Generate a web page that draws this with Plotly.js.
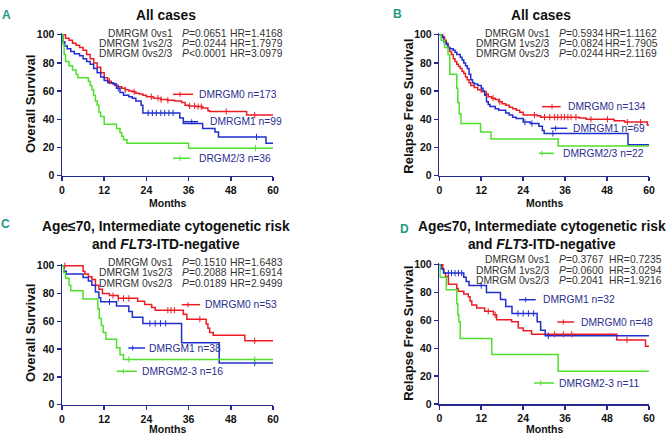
<!DOCTYPE html>
<html><head><meta charset="utf-8">
<script src="https://cdn.plot.ly/plotly-3.0.1.min.js"></script>
<style>html,body{margin:0;padding:0;background:#fff}</style>
</head><body><div id="chart" style="width:668px;height:438px"></div>
<script>
// ---------------- DATA ----------------
const monthTicks = [0, 12, 24, 36, 48, 60];
const survTicks = [0, 20, 40, 60, 80, 100];

// Panel A: Overall survival, all cases
const osAll_DMRGM0_t = [0,1,2,3,4,5,6,7,8,9,10,11,12,13,14,15,16,17,18,19,20,21,22,23,24,26,28,30,32,34,35,36,38,40,41.5,42,52.5,60];
const osAll_DMRGM0_s = [100,97.5,96,94,92.5,91,89,86,83,80,77,73,69.5,67,65.5,64,63,62,61,60,59.5,58.5,58,57,56,55,54,53.5,53,52,50,49.5,49,48,46,45.5,43,43];
const osAll_DMRGM0_cens = [13.5,18,20.5,25.4,27.3,28.2,30.1,36.3,37.7,38.7,39.6,46.7,54.8];
const osAll_DMRGM1_t = [0,0.3,0.8,1.5,2.5,3.5,5,6,7,8,9,10,11,12,13,14.5,15.5,16.5,17.5,19,20,21,22.5,23,33.5,34.5,40,43.5,44.5,58,60];
const osAll_DMRGM1_s = [100,95,92,90,88,86.5,85,83,81,79,76,73,70,67.5,66,65,62,59,57,56,55,53,50,44.5,41,37,33.5,31,27.5,23,23];
const osAll_DMRGM1_cens = [16,24.5,25.7,26.8,28.1,29.2,30.4,31.6,55.3];
const osAll_DMRGM23_t = [0,0.3,0.6,1,2,3,4,4.5,7.5,8,8.5,9,9.5,10,10.5,11,12,15.5,16.5,17,17.5,18.5,36,60];
const osAll_DMRGM23_s = [100,93,86,81,78,75,72,69.5,67,64,61,57,53,50,45,42,36.5,33.5,30.5,28,25.5,23,19.5,19.5];
const osAll_DMRGM23_cens = [55];

// Panel B: Relapse free survival, all cases
const rfsAll_DMRGM0_t = [0,1,1.5,2,2.5,3,3.5,4,4.5,5,5.5,6,6.5,7,7.5,8,8.5,9,10,11,12,13,14,15,16,17,18,19,20,21,22,23,24,28,29,40,42,50,53,59.5,60];
const rfsAll_DMRGM0_s = [100,98.5,96,94,91,88,86,83,81,79,77.5,76,74,72.5,70,68,66,64,62.5,61,59.5,58,56,55,54,52.5,51,50,48.5,47.5,46.5,45,43,42.5,41.5,41,40,39,38,36,36];
const rfsAll_DMRGM0_cens = [13.5,15.4,17.3,27.2,30.1,31.6,33,33.9,34.9,35.8,36.8,37.7,39.1,43.4,48.1,53.8,57.6];
const rfsAll_DMRGM1_t = [0,0.8,1.3,2,2.5,3,4,4.5,5,6,6.5,7,7.5,8,8.5,9,9.5,10,11,12,12.5,13,13.5,14,14.5,16,17,19,20,21,22,24,26,28.5,29.5,30,54,60];
const rfsAll_DMRGM1_s = [100,98,95,93,91,90,89,87.5,86,84,82,80,78,76,72,68,66,65,64,62,60,57,52.5,50.5,49,47.5,46.5,44.5,43,41.5,40.5,38,37,35,32,30,22,22];
const rfsAll_DMRGM1_cens = [24.5,26.5,32.5];
const rfsAll_DMRGM23_t = [0,0.5,1.5,2.5,3,5,5.3,5.7,6.2,11.8,14.8,34,60];
const rfsAll_DMRGM23_s = [100,96,91,86,72,62,52,44,37,31,26,21,21];
const rfsAll_DMRGM23_cens = [];

// Panel C: Overall survival, Age<=70 intermediate risk FLT3-ITD-negative
const osSub_DMRGM0_t = [0,6,6.5,7.5,8.5,9.5,10.5,11.5,13.5,16,21.5,23.5,25.5,26.5,34.5,35.5,41,41.5,42,43,52,60];
const osSub_DMRGM0_s = [100,96,94,92,90,86,83,80,78.5,76.5,74.5,72,70,68,65,61.5,58,55,52,50,46,46];
const osSub_DMRGM0_cens = [0.8,14.5,16,17.5,19,30.1,31,32,39.2,54.8];
const osSub_DMRGM1_t = [0,0.5,1.2,6,7.5,8.5,9.5,10.5,11,15.5,19,20,23,34,44.7,60];
const osSub_DMRGM1_s = [100,96,94,91.5,89,86,81,77,74,71,67,63,58.5,44.5,30,30];
const osSub_DMRGM1_cens = [13.5,25,26.5,28,29.5,54.8];
const osSub_DMRGM23_t = [0,0.5,1,2,2.5,6,10.2,10.6,11.2,11.7,12.5,15.5,16.5,17.5,60];
const osSub_DMRGM23_s = [100,95,91,86,82,76,69,62,57,52,47,41,36,32.5,32.5];
const osSub_DMRGM23_cens = [19,54.8];

// Panel D: Relapse free survival, subgroup
const rfsSub_DMRGM0_t = [0,1,1.3,1.8,2.6,5,5.4,7,8.3,8.8,9.3,10.7,13,15.5,16.4,20.7,22.6,24,26.4,50.8,59,60];
const rfsSub_DMRGM0_s = [100,97,94,91.5,86,83,81,79,77,74,71,69,66.5,64,60.5,59,54.5,52.5,50,46,41.5,41.5];
const rfsSub_DMRGM0_cens = [14,16,33,35.5,37.9,53.7];
const rfsSub_DMRGM1_t = [0,0.5,1.2,7,7.7,8.5,13.5,17.5,19,20.8,28,29,30.3,60];
const rfsSub_DMRGM1_s = [100,97,94,91,88,85,80,75,70,65,59,53,49,49];
const rfsSub_DMRGM1_cens = [2.6,3.5,4.5,5.5,6.4,12,22.5,24,25.5,27,31.2];
const rfsSub_DMRGM23_t = [0,0.2,2,5,5.3,5.6,6,15,34,60];
const rfsSub_DMRGM23_s = [100,91,82,72,64,59,47,35.5,23.5,23.5];
const rfsSub_DMRGM23_cens = [];

// Labels
const panelLetters = ['A', 'B', 'C', 'D'];
const panelTitles = ['All cases', 'All cases',
  'Age≤70, Intermediate cytogenetic risk<br>and <i>FLT3</i>-ITD-negative',
  'Age≤70, Intermediate cytogenetic risk<br>and <i>FLT3</i>-ITD-negative'];
const yTitles = ['Overall Survival', 'Relapse Free Survival', 'Overall Survival', 'Relapse Free Survival'];
const xTitle = 'Months';
const compNames = ['DMRGM 0vs1', 'DMRGM 1vs2/3', 'DMRGM 0vs2/3'];
const pValues = [
  ['=0.0651', '=0.0244', '<0.0001'],
  ['=0.5934', '=0.0824', '=0.0244'],
  ['=0.1510', '=0.2088', '=0.0189'],
  ['=0.3767', '=0.0600', '=0.2041']];
const hrValues = [
  ['1.4168', '1.7979', '3.0979'],
  ['1.1162', '1.7905', '2.1169'],
  ['1.6483', '1.6914', '2.9499'],
  ['0.7235', '3.0294', '1.9216']];
const legendLabels = [
  ['DMRGM0 n=173', 'DMRGM1 n=99', 'DRGM2/3 n=36'],
  ['DMRGM0 n=134', 'DMRGM1 n=69', 'DMRGM2/3 n=22'],
  ['DMRGM0 n=53', 'DMRGM1 n=38', 'DMRGM2-3 n=16'],
  ['DMRGM0 n=48', 'DMRGM1 n=32', 'DMRGM2-3 n=11']];

// ---------------- STYLE / LAYOUT ----------------
const W = 668, H = 438;
const NAVY = '#262a8e';
const COLORS = ['#ec1c24', '#1f2fd0', '#4fe02c'];
const FONT = 'Liberation Sans, Arial, sans-serif';
const NARROW = 'Liberation Sans Narrow, Arial Narrow, Liberation Sans, Arial, sans-serif';
const TEAL = '#1d9a86';
const PX = x => x / W, PY = y => 1 - y / H;

const series = [
  [[osAll_DMRGM0_t, osAll_DMRGM0_s, osAll_DMRGM0_cens], [osAll_DMRGM1_t, osAll_DMRGM1_s, osAll_DMRGM1_cens], [osAll_DMRGM23_t, osAll_DMRGM23_s, osAll_DMRGM23_cens]],
  [[rfsAll_DMRGM0_t, rfsAll_DMRGM0_s, rfsAll_DMRGM0_cens], [rfsAll_DMRGM1_t, rfsAll_DMRGM1_s, rfsAll_DMRGM1_cens], [rfsAll_DMRGM23_t, rfsAll_DMRGM23_s, rfsAll_DMRGM23_cens]],
  [[osSub_DMRGM0_t, osSub_DMRGM0_s, osSub_DMRGM0_cens], [osSub_DMRGM1_t, osSub_DMRGM1_s, osSub_DMRGM1_cens], [osSub_DMRGM23_t, osSub_DMRGM23_s, osSub_DMRGM23_cens]],
  [[rfsSub_DMRGM0_t, rfsSub_DMRGM0_s, rfsSub_DMRGM0_cens], [rfsSub_DMRGM1_t, rfsSub_DMRGM1_s, rfsSub_DMRGM1_cens], [rfsSub_DMRGM23_t, rfsSub_DMRGM23_s, rfsSub_DMRGM23_cens]]];

// pixel geometry of each panel
const geo = [
  {x0: 62, x1: 273, y0: 34.7, y1: 175.7, lab: [6.7, 15], title: [[166, 15]], yt: [30, 104], xt: [167.7, 203.3],
   stats: {ys: [33.3, 43.3, 53.3], c1: 175, cP: 180, cH: 227.7},
   leg: [[173, 193, 94.3, 180, 196.7], [183, 198, 121.7, 191.7, 208], [173, 190, 158.3, 180, 196.7]]},
  {x0: 439.3, x1: 649, y0: 34.7, y1: 175.7, lab: [397.3, 13.5], title: [[541.3, 15]], yt: [409, 106.7], xt: [544, 203.3],
   stats: {ys: [33.3, 43.3, 53.3], c1: 552, cP: 556.7, cH: 603},
   leg: [[542, 560.7, 106.7, 552, 565.7], [550.7, 567.3, 128.3, 555.7, 570.7], [539, 554, 153.3, 542, 560.7]]},
  {x0: 62, x1: 273, y0: 265.7, y1: 404.7, lab: [5, 223.7], title: [[165.5, 235]], yt: [30, 333], xt: [167.7, 428.7],
   stats: {ys: [262.3, 272.3, 283], c1: 175, cP: 180, cH: 227.7},
   leg: [[181.7, 200, 304.7, 188, 203.3], [128.3, 145, 348, 132.7, 146.7], [116.7, 136.7, 371.3, 123.3, 140]]},
  {x0: 439.3, x1: 649, y0: 264.7, y1: 404, lab: [404, 228.8], title: [[541.5, 235]], yt: [409, 333.8], xt: [544, 428.7],
   stats: {ys: [259.7, 270.3, 280.3], c1: 552, cP: 556.7, cH: 606.7},
   leg: [[557.3, 574, 322, 563.3, 579], [519, 535.7, 299.7, 525.7, 540.7], [534, 554, 383, 540.7, 557.3]]}];

function survAt(t, ts, ss) {
  let v = ss[0];
  for (let i = 0; i < ts.length; i++) { if (ts[i] <= t) v = ss[i]; }
  return v;
}

const YMAX = 101;
const traces = [];
const layout = {
  width: W, height: H, margin: {l: 0, r: 0, t: 0, b: 0},
  paper_bgcolor: '#fff', plot_bgcolor: '#fff', showlegend: false,
  font: {family: FONT}, annotations: [], shapes: []
};

geo.forEach((g, p) => {
  const sfx = p === 0 ? '' : String(p + 1);
  const xa = 'x' + sfx, ya = 'y' + sfx;
  const pxPerUnit = (g.y1 - g.y0) / 100;
  const topPx = g.y1 - pxPerUnit * YMAX;
  const axisCommon = {
    ticks: 'outside', ticklen: 4, tickwidth: 1.5, tickcolor: NAVY,
    showline: true, linecolor: NAVY, linewidth: 1.5, showgrid: false, zeroline: false,
    tickfont: {family: FONT, size: 10.5, color: '#111', weight: 'bold'}, fixedrange: true
  };
  layout['xaxis' + sfx] = Object.assign({}, axisCommon, {
    domain: [PX(g.x0), PX(g.x1)], anchor: ya, range: [0, 60], tickmode: 'array', tickvals: monthTicks
  });
  layout['yaxis' + sfx] = Object.assign({}, axisCommon, {
    domain: [PY(g.y1), PY(topPx)], anchor: xa, range: [0, YMAX], tickmode: 'array', tickvals: survTicks
  });

  series[p].forEach((s, k) => {
    traces.push({
      type: 'scatter', mode: 'lines', x: s[0], y: s[1], xaxis: xa, yaxis: ya,
      line: {color: COLORS[k], width: 1.5, shape: 'hv'}, hoverinfo: 'skip'
    });
  });
  series[p].forEach((s, k) => {
    if (!s[2].length) return;
    traces.push({
      type: 'scatter', mode: 'markers', x: s[2], y: s[2].map(t => survAt(t, s[0], s[1])),
      xaxis: xa, yaxis: ya, cliponaxis: false, hoverinfo: 'skip',
      marker: {symbol: 'line-ns', size: 4.5, color: COLORS[k], line: {color: COLORS[k], width: 1}}
    });
  });

  layout.annotations.push({xref: 'paper', yref: 'paper', x: PX(g.lab[0]), y: PY(g.lab[1]),
    xanchor: 'center', yanchor: 'middle', showarrow: false, text: panelLetters[p],
    font: {family: NARROW, size: 12, color: TEAL, weight: 'bold'}});
  layout.annotations.push({xref: 'paper', yref: 'paper', x: PX(g.title[0][0]), y: PY(g.title[0][1]),
    xanchor: 'center', yanchor: 'middle', showarrow: false, text: panelTitles[p],
    font: {family: NARROW, size: 13.8, color: '#111', weight: 'bold'}});
  layout.annotations.push({xref: 'paper', yref: 'paper', x: PX(g.yt[0]), y: PY(g.yt[1]),
    xanchor: 'center', yanchor: 'middle', showarrow: false, text: yTitles[p], textangle: -90,
    font: {family: FONT, size: 13, color: '#111', weight: 'bold'}});
  layout.annotations.push({xref: 'paper', yref: 'paper', x: PX(g.xt[0]), y: PY(g.xt[1]),
    xanchor: 'center', yanchor: 'middle', showarrow: false, text: xTitle,
    font: {family: NARROW, size: 10.5, color: '#111', weight: 'bold'}});
  const st = g.stats;
  for (let i = 0; i < 3; i++) {
    const yy = PY(st.ys[i]);
    const f = {family: FONT, size: 10.3, color: '#333'};
    layout.annotations.push({xref: 'paper', yref: 'paper', x: PX(st.c1), y: yy, xanchor: 'right', yanchor: 'middle',
      showarrow: false, text: compNames[i], font: f});
    layout.annotations.push({xref: 'paper', yref: 'paper', x: PX(st.cP), y: yy, xanchor: 'left', yanchor: 'middle',
      showarrow: false, text: '<i>P</i>' + pValues[p][i].replace('<', '&lt;'), font: f});
    layout.annotations.push({xref: 'paper', yref: 'paper', x: PX(st.cH), y: yy, xanchor: 'left', yanchor: 'middle',
      showarrow: false, text: 'HR=' + hrValues[p][i], font: f});
  }
  g.leg.forEach((L, k) => {
    layout.shapes.push({type: 'line', xref: 'paper', yref: 'paper', x0: PX(L[0]), x1: PX(L[1]), y0: PY(L[2]), y1: PY(L[2]),
      line: {color: COLORS[k], width: 1.5}});
    layout.shapes.push({type: 'line', xref: 'paper', yref: 'paper', x0: PX(L[3]), x1: PX(L[3]), y0: PY(L[2] - 2.5), y1: PY(L[2] + 2.5),
      line: {color: COLORS[k], width: 1}});
    layout.annotations.push({xref: 'paper', yref: 'paper', x: PX(L[4]), y: PY(L[2]), xanchor: 'left', yanchor: 'middle',
      showarrow: false, text: legendLabels[p][k], font: {family: FONT, size: 10.3, color: '#2b2f8f'}});
  });
});

Plotly.newPlot('chart', traces, layout, {staticPlot: true, displayModeBar: false});
</script>
</body></html>
